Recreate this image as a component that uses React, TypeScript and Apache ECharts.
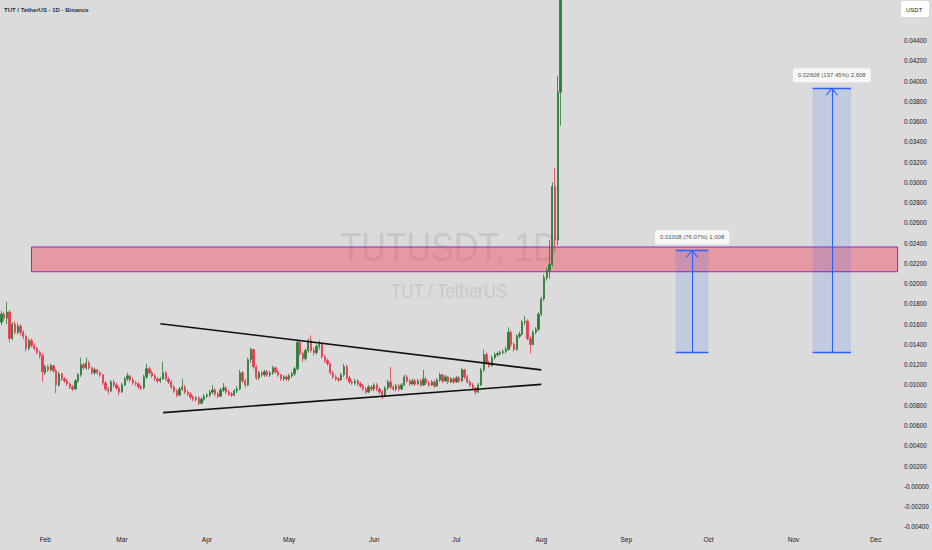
import React, { useEffect, useRef } from 'react';
import * as echarts from 'echarts';

// ---------- data ----------
const START_DATE = Date.UTC(2025, 0, 16);
const DAY_COUNT = 328;
const MONTH_NAMES = ['Jan', 'Feb', 'Mar', 'Apr', 'May', 'Jun', 'Jul', 'Aug', 'Sep', 'Oct', 'Nov', 'Dec'];
const DATES: string[] = Array.from({ length: DAY_COUNT }, (_, i) =>
  new Date(START_DATE + i * 86400000).toISOString().slice(0, 10)
);

// daily candles: [open, close, low, high]
const CANDLE_OHLC: number[][] = [
  [0.0162, 0.0170, 0.0159, 0.0173], [0.0170, 0.0166, 0.0163, 0.0172], [0.0166, 0.0172, 0.0160, 0.0182],
  [0.0172, 0.0146, 0.0142, 0.0174], [0.0146, 0.0160, 0.0144, 0.0162], [0.0160, 0.0152, 0.0150, 0.0163],
  [0.0152, 0.0158, 0.0150, 0.0161], [0.0158, 0.0152, 0.0149, 0.0160], [0.0152, 0.0148, 0.0145, 0.0154],
  [0.0148, 0.0136, 0.0133, 0.0150], [0.0136, 0.0144, 0.0134, 0.0146], [0.0144, 0.0139, 0.0137, 0.0146],
  [0.0139, 0.0136, 0.0134, 0.0141], [0.0136, 0.0132, 0.0130, 0.0138], [0.0132, 0.0129, 0.0126, 0.0134],
  [0.0129, 0.0113, 0.0103, 0.0131], [0.0112, 0.0118, 0.0110, 0.0120], [0.0118, 0.0115, 0.0113, 0.0120],
  [0.0115, 0.0119, 0.0113, 0.0121], [0.0119, 0.0114, 0.0112, 0.0120], [0.0114, 0.0100, 0.0092, 0.0116],
  [0.0100, 0.0111, 0.0098, 0.0113], [0.0111, 0.0106, 0.0104, 0.0112], [0.0106, 0.0104, 0.0102, 0.0108],
  [0.0104, 0.0101, 0.0099, 0.0106], [0.0101, 0.0098, 0.0096, 0.0103], [0.0098, 0.0096, 0.0094, 0.0100],
  [0.0096, 0.0104, 0.0095, 0.0106], [0.0104, 0.0110, 0.0102, 0.0112], [0.0110, 0.0120, 0.0108, 0.0127],
  [0.0120, 0.0117, 0.0115, 0.0122], [0.0117, 0.0122, 0.0115, 0.0127], [0.0122, 0.0117, 0.0115, 0.0124],
  [0.0117, 0.0112, 0.0110, 0.0118], [0.0112, 0.0115, 0.0110, 0.0117], [0.0115, 0.0112, 0.0110, 0.0116],
  [0.0112, 0.0110, 0.0108, 0.0114], [0.0110, 0.0102, 0.0100, 0.0111], [0.0102, 0.0096, 0.0094, 0.0104],
  [0.0096, 0.0094, 0.0091, 0.0098], [0.0094, 0.0103, 0.0093, 0.0105], [0.0103, 0.0100, 0.0098, 0.0105],
  [0.0100, 0.0097, 0.0095, 0.0102], [0.0097, 0.0093, 0.0090, 0.0099], [0.0093, 0.0100, 0.0092, 0.0102],
  [0.0100, 0.0106, 0.0099, 0.0108], [0.0106, 0.0109, 0.0104, 0.0112], [0.0109, 0.0105, 0.0103, 0.0110],
  [0.0105, 0.0102, 0.0100, 0.0107], [0.0102, 0.0101, 0.0099, 0.0104], [0.0101, 0.0098, 0.0096, 0.0103],
  [0.0098, 0.0097, 0.0095, 0.0100], [0.0097, 0.0108, 0.0096, 0.0110], [0.0108, 0.0116, 0.0106, 0.0121],
  [0.0116, 0.0112, 0.0110, 0.0118], [0.0112, 0.0109, 0.0107, 0.0114], [0.0109, 0.0106, 0.0104, 0.0111],
  [0.0106, 0.0104, 0.0102, 0.0108], [0.0104, 0.0106, 0.0102, 0.0108], [0.0106, 0.0112, 0.0105, 0.0123],
  [0.0112, 0.0106, 0.0104, 0.0114], [0.0106, 0.0103, 0.0101, 0.0108], [0.0103, 0.0098, 0.0096, 0.0105],
  [0.0098, 0.0094, 0.0092, 0.0100], [0.0094, 0.0090, 0.0088, 0.0096], [0.0090, 0.0096, 0.0089, 0.0098],
  [0.0096, 0.0098, 0.0094, 0.0106], [0.0098, 0.0093, 0.0091, 0.0100], [0.0093, 0.0091, 0.0089, 0.0095],
  [0.0091, 0.0088, 0.0086, 0.0093], [0.0088, 0.0086, 0.0084, 0.0090], [0.0086, 0.0087, 0.0084, 0.0089],
  [0.0087, 0.0082, 0.0080, 0.0089], [0.0082, 0.0086, 0.0081, 0.0088], [0.0086, 0.0089, 0.0084, 0.0091],
  [0.0089, 0.0090, 0.0087, 0.0092], [0.0090, 0.0093, 0.0088, 0.0095], [0.0093, 0.0095, 0.0091, 0.0100],
  [0.0095, 0.0091, 0.0089, 0.0097], [0.0091, 0.0089, 0.0087, 0.0093], [0.0089, 0.0095, 0.0088, 0.0097],
  [0.0095, 0.0097, 0.0093, 0.0102], [0.0097, 0.0093, 0.0091, 0.0099], [0.0093, 0.0091, 0.0089, 0.0095],
  [0.0091, 0.0090, 0.0088, 0.0093], [0.0090, 0.0094, 0.0089, 0.0096], [0.0094, 0.0096, 0.0092, 0.0099],
  [0.0096, 0.0112, 0.0095, 0.0115], [0.0112, 0.0104, 0.0102, 0.0114], [0.0104, 0.0100, 0.0097, 0.0106],
  [0.0100, 0.0125, 0.0099, 0.0127], [0.0125, 0.0135, 0.0122, 0.0137], [0.0135, 0.0118, 0.0116, 0.0136],
  [0.0118, 0.0107, 0.0105, 0.0120], [0.0107, 0.0112, 0.0105, 0.0114], [0.0112, 0.0110, 0.0108, 0.0114],
  [0.0110, 0.0113, 0.0108, 0.0115], [0.0113, 0.0110, 0.0108, 0.0115], [0.0110, 0.0112, 0.0108, 0.0114],
  [0.0112, 0.0117, 0.0110, 0.0119], [0.0117, 0.0113, 0.0111, 0.0118], [0.0113, 0.0110, 0.0108, 0.0115],
  [0.0110, 0.0106, 0.0104, 0.0111], [0.0106, 0.0108, 0.0104, 0.0110], [0.0108, 0.0106, 0.0104, 0.0110],
  [0.0106, 0.0109, 0.0104, 0.0111], [0.0109, 0.0111, 0.0107, 0.0113], [0.0111, 0.0116, 0.0109, 0.0118],
  [0.0116, 0.0142, 0.0114, 0.0145], [0.0142, 0.0131, 0.0129, 0.0144], [0.0131, 0.0126, 0.0123, 0.0133],
  [0.0126, 0.0134, 0.0124, 0.0136], [0.0134, 0.0144, 0.0132, 0.0146], [0.0144, 0.0134, 0.0132, 0.0149],
  [0.0134, 0.0132, 0.0129, 0.0137], [0.0132, 0.0138, 0.0130, 0.0140], [0.0138, 0.0140, 0.0135, 0.0144],
  [0.0140, 0.0128, 0.0126, 0.0141], [0.0128, 0.0124, 0.0122, 0.0130], [0.0124, 0.0121, 0.0119, 0.0126],
  [0.0121, 0.0112, 0.0110, 0.0122], [0.0112, 0.0108, 0.0106, 0.0114], [0.0108, 0.0106, 0.0104, 0.0110],
  [0.0106, 0.0105, 0.0103, 0.0108], [0.0105, 0.0110, 0.0104, 0.0112], [0.0110, 0.0118, 0.0108, 0.0121],
  [0.0118, 0.0107, 0.0105, 0.0120], [0.0107, 0.0103, 0.0101, 0.0109], [0.0103, 0.0102, 0.0100, 0.0105],
  [0.0102, 0.0104, 0.0100, 0.0106], [0.0104, 0.0101, 0.0099, 0.0106], [0.0101, 0.0099, 0.0097, 0.0103],
  [0.0099, 0.0096, 0.0094, 0.0101], [0.0096, 0.0093, 0.0091, 0.0098], [0.0093, 0.0098, 0.0092, 0.0100],
  [0.0098, 0.0096, 0.0094, 0.0100], [0.0096, 0.0100, 0.0094, 0.0102], [0.0100, 0.0096, 0.0094, 0.0102],
  [0.0096, 0.0093, 0.0091, 0.0098], [0.0093, 0.0089, 0.0086, 0.0095], [0.0089, 0.0097, 0.0088, 0.0099],
  [0.0097, 0.0103, 0.0095, 0.0105], [0.0103, 0.0098, 0.0096, 0.0118], [0.0098, 0.0096, 0.0094, 0.0100],
  [0.0096, 0.0099, 0.0094, 0.0101], [0.0099, 0.0096, 0.0094, 0.0101], [0.0096, 0.0100, 0.0095, 0.0102],
  [0.0100, 0.0108, 0.0099, 0.0110], [0.0108, 0.0104, 0.0102, 0.0110], [0.0104, 0.0101, 0.0099, 0.0106],
  [0.0101, 0.0104, 0.0100, 0.0106], [0.0104, 0.0101, 0.0099, 0.0106], [0.0101, 0.0104, 0.0100, 0.0106],
  [0.0104, 0.0100, 0.0098, 0.0106], [0.0100, 0.0106, 0.0099, 0.0115], [0.0106, 0.0102, 0.0100, 0.0108],
  [0.0102, 0.0100, 0.0098, 0.0104], [0.0100, 0.0103, 0.0099, 0.0105], [0.0103, 0.0099, 0.0097, 0.0105],
  [0.0099, 0.0105, 0.0098, 0.0107], [0.0105, 0.0110, 0.0103, 0.0112], [0.0110, 0.0104, 0.0102, 0.0111],
  [0.0104, 0.0108, 0.0103, 0.0110], [0.0108, 0.0103, 0.0101, 0.0109], [0.0103, 0.0106, 0.0102, 0.0108],
  [0.0106, 0.0103, 0.0101, 0.0108], [0.0103, 0.0107, 0.0102, 0.0109], [0.0107, 0.0104, 0.0102, 0.0109],
  [0.0104, 0.0115, 0.0103, 0.0117], [0.0115, 0.0108, 0.0106, 0.0116], [0.0108, 0.0103, 0.0101, 0.0110],
  [0.0103, 0.0100, 0.0098, 0.0105], [0.0100, 0.0097, 0.0095, 0.0102], [0.0097, 0.0093, 0.0090, 0.0098],
  [0.0093, 0.0100, 0.0092, 0.0102], [0.0100, 0.0115, 0.0099, 0.0117], [0.0115, 0.0130, 0.0113, 0.0135],
  [0.0130, 0.0122, 0.0120, 0.0132], [0.0122, 0.0119, 0.0117, 0.0124], [0.0119, 0.0127, 0.0118, 0.0129],
  [0.0127, 0.0130, 0.0125, 0.0132], [0.0130, 0.0131, 0.0128, 0.0133], [0.0131, 0.0132, 0.0129, 0.0134],
  [0.0132, 0.0133, 0.0130, 0.0135], [0.0133, 0.0135, 0.0131, 0.0138], [0.0135, 0.0152, 0.0134, 0.0157],
  [0.0152, 0.0140, 0.0137, 0.0154], [0.0140, 0.0135, 0.0133, 0.0142], [0.0135, 0.0148, 0.0134, 0.0150],
  [0.0148, 0.0150, 0.0146, 0.0153], [0.0150, 0.0162, 0.0149, 0.0164], [0.0162, 0.0163, 0.0159, 0.0168],
  [0.0163, 0.0146, 0.0144, 0.0165], [0.0146, 0.0140, 0.0131, 0.0148], [0.0140, 0.0152, 0.0139, 0.0154],
  [0.0152, 0.0155, 0.0150, 0.0157], [0.0155, 0.0170, 0.0153, 0.0172], [0.0170, 0.0185, 0.0168, 0.0187],
  [0.0185, 0.0206, 0.0183, 0.0209], [0.0206, 0.0213, 0.0203, 0.0216], [0.0213, 0.0219, 0.0205, 0.0243],
  [0.0219, 0.0296, 0.0217, 0.0300], [0.0296, 0.0243, 0.0233, 0.0314], [0.0243, 0.0389, 0.0238, 0.0405],
  [0.0389, 0.0560, 0.0356, 0.0600],
];

// price axis
const PRICE_MIN = -0.006;
const PRICE_MAX = 0.048;
const PRICE_STEP = 0.002;
const PRICE_LABEL_TOP = 0.044;
const PRICE_LABEL_BOTTOM = -0.004;

// drawings (category index, price)
const TRIANGLE_UPPER = [[58, 0.01605], [197, 0.01149]];
const TRIANGLE_LOWER = [[59, 0.00727], [197, 0.01006]];
const ZONE = { fromIndex: 11, toIndex: 327, low: 0.02118, high: 0.02362 };
const MEASURES = [
  { from: 246, to: 258, mid: 252, base: 0.01322, top: 0.0233, label: '0.01008 (76.07%) 1,008' },
  { from: 296, to: 310, mid: 303, base: 0.01322, top: 0.0393, label: '0.02608 (197.45%) 2,608' },
];
const ARROW_HALF = 2;
const ARROW_DROP = 0.0007;

const TITLE_TEXT = 'TUT / TetherUS · 1D · Binance';
const WATERMARK_MAIN = 'TUTUSDT, 1D';
const WATERMARK_SUB = 'TUT / TetherUS';
const CURRENCY = 'USDT';

// ---------- styles ----------
const BG = '#dbdbdb';
const UP = '#2b7a35';
const DOWN = '#e53a4f';
const BLUE = '#2962ff';
const TEXT = '#131722';
const FONT = "'Liberation Sans', Arial, sans-serif";

function buildOption() {
  const d = (i: number) => DATES[i];
  const seg = (a: number[], b: number[], style: any) => [
    { coord: [d(a[0]), a[1]], lineStyle: style },
    { coord: [d(b[0]), b[1]] },
  ];
  const blueStyle = { color: BLUE, width: 1.4, type: 'solid' };
  const markLines: any[] = [
    seg(TRIANGLE_UPPER[0], TRIANGLE_UPPER[1], { color: '#111', width: 1.6, type: 'solid' }),
    seg(TRIANGLE_LOWER[0], TRIANGLE_LOWER[1], { color: '#111', width: 1.6, type: 'solid' }),
  ];
  const markAreas: any[] = [
    [
      {
        xAxis: d(ZONE.fromIndex),
        yAxis: ZONE.high,
        itemStyle: { color: 'rgba(242,54,80,0.40)', borderColor: '#9c27b0', borderWidth: 1 },
      },
      { xAxis: d(ZONE.toIndex), yAxis: ZONE.low },
    ],
  ];
  MEASURES.forEach((m) => {
    markAreas.push([
      { xAxis: d(m.from), yAxis: m.top, itemStyle: { color: 'rgba(41,98,255,0.14)' } },
      { xAxis: d(m.to), yAxis: m.base },
    ]);
    markLines.push(seg([m.from, m.base], [m.to, m.base], blueStyle));
    markLines.push(seg([m.from, m.top], [m.to, m.top], blueStyle));
    markLines.push(seg([m.mid, m.base], [m.mid, m.top], { color: BLUE, width: 1.1, type: 'solid' }));
    markLines.push(seg([m.mid - ARROW_HALF, m.top - ARROW_DROP], [m.mid, m.top], { color: BLUE, width: 1.1, type: 'solid' }));
    markLines.push(seg([m.mid + ARROW_HALF, m.top - ARROW_DROP], [m.mid, m.top], { color: BLUE, width: 1.1, type: 'solid' }));
  });

  return {
    animation: false,
    backgroundColor: BG,
    textStyle: { fontFamily: FONT },
    grid: { left: 0, right: 33, top: -4.9, bottom: 2.9 },
    xAxis: {
      type: 'category',
      data: DATES,
      boundaryGap: true,
      axisLine: { show: false },
      axisTick: { show: false },
      splitLine: { show: false },
      axisLabel: {
        inside: true,
        margin: 4,
        fontSize: 6.5,
        color: TEXT,
        fontFamily: FONT,
        interval: (_i: number, v: string) => v.slice(8, 10) === '01',
        formatter: (v: string) => MONTH_NAMES[parseInt(v.slice(5, 7), 10) - 1],
      },
    },
    yAxis: {
      type: 'value',
      position: 'right',
      min: PRICE_MIN,
      max: PRICE_MAX,
      interval: PRICE_STEP,
      axisLine: { show: false },
      axisTick: { show: false },
      splitLine: { show: false },
      axisLabel: {
        margin: 5,
        fontSize: 6.3,
        color: TEXT,
        fontFamily: FONT,
        formatter: (v: number) => {
          if (v > PRICE_LABEL_TOP + 1e-6 || v < PRICE_LABEL_BOTTOM - 1e-6) return '';
          if (Math.abs(v) < 1e-9) return '-0.00000';
          return v.toFixed(5);
        },
      },
    },
    graphic: [
      {
        type: 'text',
        x: 449,
        y: 247,
        scaleX: 0.85,
        z: 0,
        silent: true,
        style: { text: WATERMARK_MAIN, x: 0, y: 0, fontSize: 40, fontFamily: FONT, fill: '#c8c8c8', align: 'center', verticalAlign: 'middle' },
      },
      {
        type: 'text',
        x: 449,
        y: 291,
        scaleX: 0.84,
        z: 0,
        silent: true,
        style: { text: WATERMARK_SUB, x: 0, y: 0, fontSize: 20, fontFamily: FONT, fill: '#c8c8c8', align: 'center', verticalAlign: 'middle' },
      },
      {
        type: 'text',
        x: 4,
        y: 10,
        z: 10,
        silent: true,
        style: { text: TITLE_TEXT, fontSize: 6, fontFamily: FONT, fontWeight: 'bold', fill: '#2a2e39', align: 'left', verticalAlign: 'middle' },
      },
      {
        type: 'rect',
        z: 10,
        silent: true,
        shape: { x: 901, y: 1, width: 28, height: 16, r: 2 },
        style: { fill: '#ffffff' },
      },
      {
        type: 'text',
        x: 906,
        y: 9.5,
        z: 11,
        silent: true,
        style: { text: CURRENCY, fontSize: 6, fontFamily: FONT, fill: TEXT, align: 'left', verticalAlign: 'middle' },
      },
    ],
    series: [
      {
        type: 'candlestick',
        data: CANDLE_OHLC.map((r) => [r[0], r[1], r[2], r[3]]),
        barWidth: 1.8,
        clip: true,
        itemStyle: { color: UP, color0: DOWN, borderColor: UP, borderColor0: DOWN, borderWidth: 0.8 },
        markArea: { silent: true, data: markAreas },
        markLine: {
          silent: true,
          symbol: ['none', 'none'],
          label: { show: false },
          animation: false,
          data: markLines,
        },
      },
      {
        type: 'scatter',
        symbolSize: 0,
        silent: true,
        z: 12,
        data: MEASURES.map((m) => ({ value: [d(m.mid), m.top], name: m.label })),
        label: {
          show: true,
          position: 'top',
          distance: 6,
          formatter: (p: any) => p.name,
          backgroundColor: '#ffffff',
          padding: [4, 5, 4, 5],
          borderRadius: 2,
          fontSize: 6,
          fontFamily: FONT,
          color: TEXT,
        },
      },
    ],
  };
}

export default function App() {
  const ref = useRef<HTMLDivElement>(null);
  useEffect(() => {
    document.body.style.margin = '0';
    const chart = echarts.init(ref.current as HTMLDivElement, null, { renderer: 'svg' });
    chart.setOption(buildOption() as any);
    return () => chart.dispose();
  }, []);
  return <div ref={ref} style={{ position: 'absolute', left: 0, top: 0, width: 932, height: 550 }} />;
}
